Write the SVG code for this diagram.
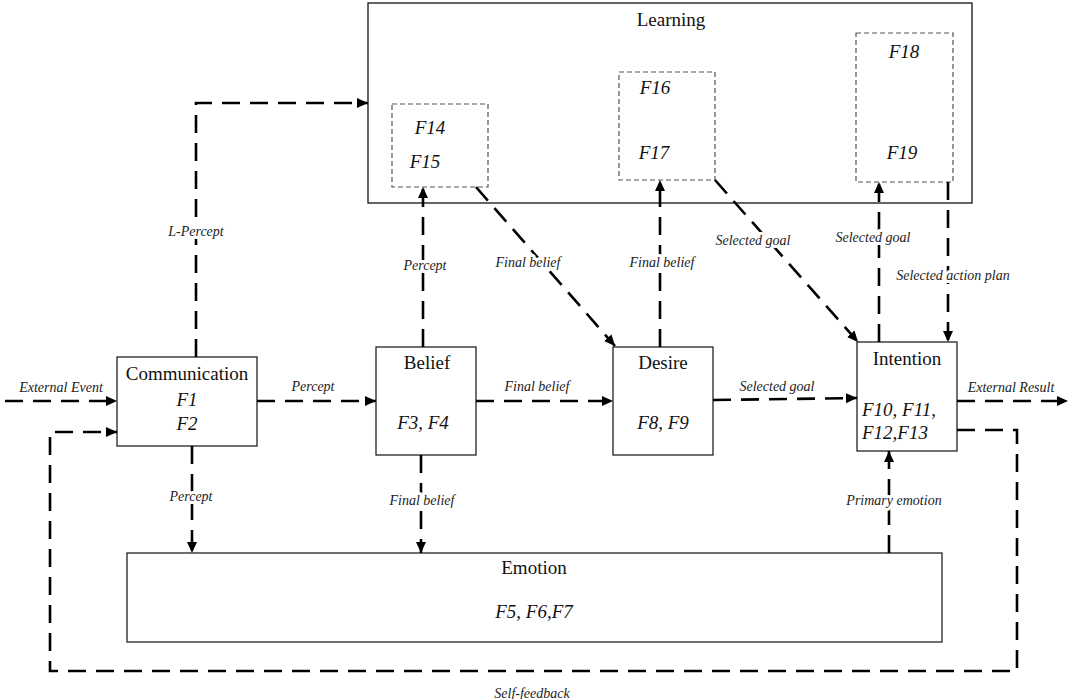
<svg xmlns="http://www.w3.org/2000/svg" width="1071" height="699" viewBox="0 0 1071 699">
<style>
.box{fill:#fff;stroke:#222;stroke-width:1.3}
.sub{fill:none;stroke:#555;stroke-width:1.2;stroke-dasharray:5,3}
.t{font-family:"Liberation Serif","Times New Roman",serif;font-size:19px;fill:#111;text-anchor:middle}
.f{font-family:"Liberation Serif","Times New Roman",serif;font-size:19px;font-style:italic;fill:#111;text-anchor:middle}
.c{fill:none;stroke:#000;stroke-width:2.6;stroke-dasharray:18,10}
.l{font-family:"Liberation Serif","Times New Roman",serif;font-size:14px;font-style:italic;fill:#222;text-anchor:middle;stroke:#fff;stroke-width:6;paint-order:stroke;stroke-linejoin:round}
</style>
<defs>
<marker id="ah" markerUnits="userSpaceOnUse" markerWidth="12" markerHeight="11" refX="11" refY="5" orient="auto">
<path d="M0,0 L11,5 L0,10 z" fill="#000"/>
</marker>
</defs>
<rect width="1071" height="699" fill="#fff"/>

<g id="learning">
<rect class="box" x="368" y="3" width="604" height="200" style="stroke:#111"/>
<text class="t" x="671" y="26">Learning</text>
<rect class="sub" x="392" y="104" width="96" height="83"/>
<text class="f" x="430" y="134">F14</text>
<text class="f" x="425" y="168">F15</text>
<rect class="sub" x="619" y="72" width="96" height="108"/>
<text class="f" x="655" y="94">F16</text>
<text class="f" x="654" y="159">F17</text>
<rect class="sub" x="856" y="33" width="97" height="149"/>
<text class="f" x="904" y="58">F18</text>
<text class="f" x="902" y="159">F19</text>
</g>

<g id="communication">
<rect class="box" x="117" y="357" width="140" height="89"/>
<text class="t" x="187" y="380">Communication</text>
<text class="f" x="187" y="406">F1</text>
<text class="f" x="187" y="430">F2</text>
</g>

<g id="belief">
<rect class="box" x="376" y="347" width="100" height="108"/>
<text class="t" x="427" y="369">Belief</text>
<text class="f" x="423" y="429">F3, F4</text>
</g>

<g id="desire">
<rect class="box" x="613" y="347" width="100" height="108"/>
<text class="t" x="663" y="369">Desire</text>
<text class="f" x="663" y="429">F8, F9</text>
</g>

<g id="intention">
<rect class="box" x="857" y="342" width="100" height="109"/>
<text class="t" x="907" y="365">Intention</text>
<text class="f" x="862" y="416" style="text-anchor:start">F10, F11,</text>
<text class="f" x="862" y="439" style="text-anchor:start">F12,F13</text>
</g>

<g id="emotion">
<rect class="box" x="127" y="553" width="815" height="89"/>
<text class="t" x="534" y="574">Emotion</text>
<text class="f" x="534" y="618">F5, F6,F7</text>
</g>

<g id="connectors">
<path class="c" d="M5,401 H117" marker-end="url(#ah)"/>
<path class="c" d="M257,401 H376" marker-end="url(#ah)"/>
<path class="c" d="M476,401 H613" marker-end="url(#ah)"/>
<path class="c" d="M713,400 L857,398" marker-end="url(#ah)"/>
<path class="c" d="M957,401 H1068" marker-end="url(#ah)"/>
<path class="c" d="M957,430 H1017 V671 H50 V432 H117" marker-end="url(#ah)"/>
<path class="c" d="M196,357 V103 H368" marker-end="url(#ah)"/>
<path class="c" d="M423,347 V187" marker-end="url(#ah)"/>
<path class="c" d="M476,187 L615,346" marker-end="url(#ah)"/>
<path class="c" d="M660,347 V180" marker-end="url(#ah)"/>
<path class="c" d="M715,180 L858,342" marker-end="url(#ah)"/>
<path class="c" d="M879,342 V182" marker-end="url(#ah)"/>
<path class="c" d="M948,182 V342" marker-end="url(#ah)"/>
<path class="c" d="M192,446 V553" marker-end="url(#ah)"/>
<path class="c" d="M421,455 V553" marker-end="url(#ah)"/>
<path class="c" d="M889,553 V451" marker-end="url(#ah)"/>

<text class="l" x="61" y="392">External Event</text>
<text class="l" x="313" y="391">Percept</text>
<text class="l" x="537" y="391">Final belief</text>
<text class="l" x="777" y="391">Selected goal</text>
<text class="l" x="1011" y="392">External Result</text>
<text class="l" x="196" y="236">L-Percept</text>
<text class="l" x="425" y="270">Percept</text>
<text class="l" x="528" y="267">Final belief</text>
<text class="l" x="662" y="267">Final belief</text>
<text class="l" x="753" y="245">Selected goal</text>
<text class="l" x="873" y="242">Selected goal</text>
<text class="l" x="953" y="280">Selected action plan</text>
<text class="l" x="191" y="501">Percept</text>
<text class="l" x="422" y="505">Final belief</text>
<text class="l" x="894" y="505">Primary emotion</text>
<text class="l" x="532" y="698">Self-feedback</text>
</g>
</svg>
